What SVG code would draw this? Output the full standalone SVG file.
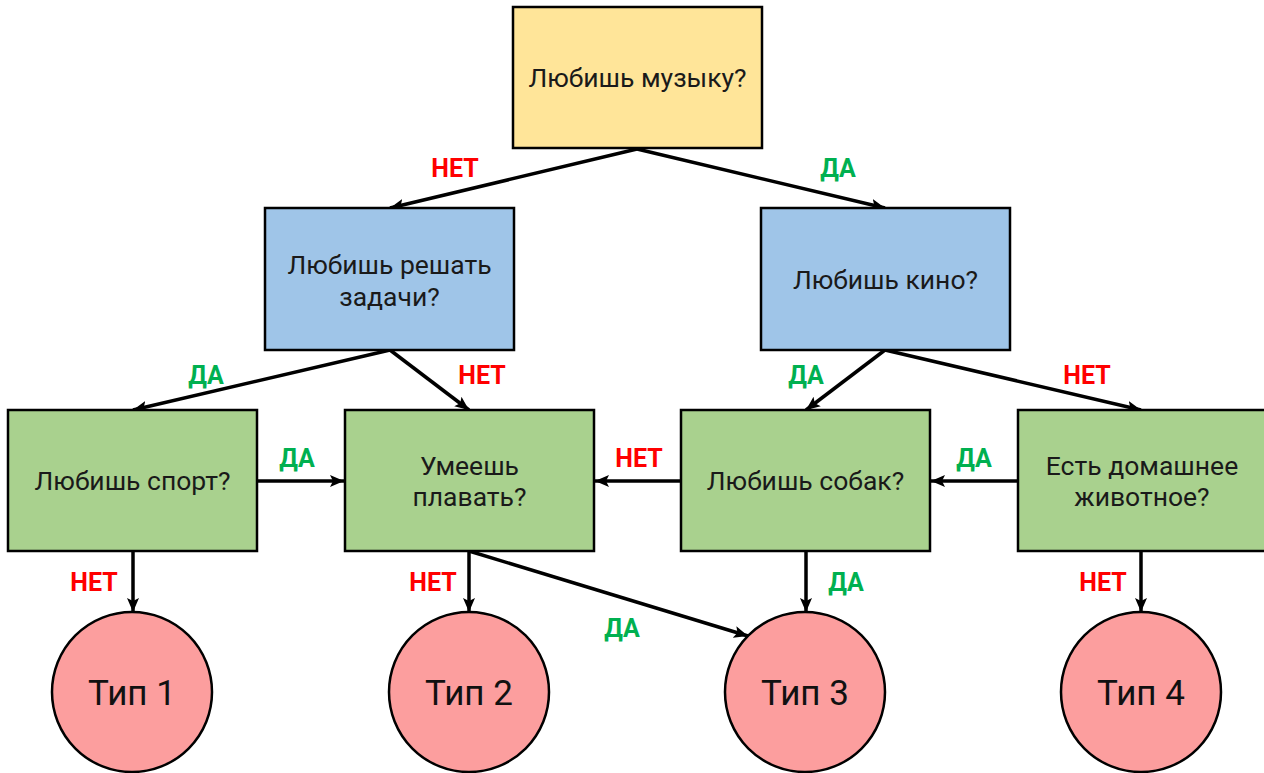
<svg xmlns="http://www.w3.org/2000/svg" width="1264" height="773" viewBox="0 0 1264 773">
<style>
.box{stroke:#000;stroke-width:2.5}
.q{fill:#FFE599}
.b{fill:#9FC5E8}
.g{fill:#A9D18E}
.c{fill:#FC9E9E;stroke:#000;stroke-width:2.5}
.t{font-family:Roboto,"Liberation Sans",sans-serif;font-size:26.5px;fill:#1a1a1a;text-anchor:middle}
.tt{font-family:Roboto,"Liberation Sans",sans-serif;font-size:35px;fill:#111;text-anchor:middle}
.lb{font-family:Roboto,"Liberation Sans",sans-serif;font-size:25px;font-weight:bold;text-anchor:middle}
.no{fill:#FF0000}
.yes{fill:#00B050}
.e{stroke:#000;stroke-width:3.5;fill:none;marker-end:url(#a)}
</style>
<defs>
<marker id="a" markerUnits="userSpaceOnUse" markerWidth="16" markerHeight="14" refX="14" refY="6" orient="auto" viewBox="0 0 16 12">
<path d="M0,0 L14,6 L0,12 L3,6 Z" fill="#000"/>
</marker>
</defs>
<g id="connectors">
<line class="e" x1="637" y1="149" x2="390" y2="208"/>
<line class="e" x1="637" y1="149" x2="885" y2="208"/>
<line class="e" x1="390" y1="350" x2="133" y2="410"/>
<line class="e" x1="390" y1="350" x2="469" y2="410"/>
<line class="e" x1="885" y1="350" x2="806" y2="410"/>
<line class="e" x1="885" y1="350" x2="1141" y2="410"/>
<line class="e" x1="257" y1="481" x2="344" y2="481"/>
<line class="e" x1="681" y1="481" x2="595" y2="481"/>
<line class="e" x1="1018" y1="481" x2="931" y2="481"/>
<line class="e" x1="133" y1="551" x2="133" y2="612"/>
<line class="e" x1="469" y1="551" x2="469" y2="612"/>
<line class="e" x1="469" y1="551" x2="748" y2="636"/>
<line class="e" x1="806" y1="551" x2="806" y2="612"/>
<line class="e" x1="1141" y1="551" x2="1141" y2="612"/>
<text class="lb no" x="455" y="177">НЕТ</text>
<text class="lb yes" x="838" y="177">ДА</text>
<text class="lb yes" x="206" y="384">ДА</text>
<text class="lb no" x="482" y="384">НЕТ</text>
<text class="lb yes" x="806" y="384">ДА</text>
<text class="lb no" x="1087" y="384">НЕТ</text>
<text class="lb yes" x="297" y="467">ДА</text>
<text class="lb no" x="639" y="467">НЕТ</text>
<text class="lb yes" x="974" y="467">ДА</text>
<text class="lb no" x="94" y="591">НЕТ</text>
<text class="lb no" x="433" y="591">НЕТ</text>
<text class="lb yes" x="622" y="637">ДА</text>
<text class="lb yes" x="846" y="591">ДА</text>
<text class="lb no" x="1103" y="591">НЕТ</text>
</g>
<g id="n_music"><rect class="box q" x="513" y="7" width="249" height="141"/><text class="t" x="637.5" y="87">Любишь музыку?</text></g>
<g id="n_tasks"><rect class="box b" x="265" y="208" width="249" height="142"/><text class="t" x="389.5" y="274">Любишь решать</text><text class="t" x="389.5" y="306">задачи?</text></g>
<g id="n_movies"><rect class="box b" x="761" y="208" width="249" height="142"/><text class="t" x="885.5" y="289">Любишь кино?</text></g>
<g id="n_sport"><rect class="box g" x="8" y="410" width="249" height="141"/><text class="t" x="132.5" y="490">Любишь спорт?</text></g>
<g id="n_swim"><rect class="box g" x="345" y="410" width="249" height="141"/><text class="t" x="469.5" y="475">Умеешь</text><text class="t" x="469.5" y="506">плавать?</text></g>
<g id="n_dogs"><rect class="box g" x="681" y="410" width="249" height="141"/><text class="t" x="805.5" y="490">Любишь собак?</text></g>
<g id="n_pet"><rect class="box g" x="1018" y="410" width="249" height="141"/><text class="t" x="1142" y="475">Есть домашнее</text><text class="t" x="1142" y="506">животное?</text></g>
<g id="n_t1"><circle class="c" cx="132" cy="692" r="80"/><text class="tt" x="132" y="705">Тип 1</text></g>
<g id="n_t2"><circle class="c" cx="469" cy="692" r="80"/><text class="tt" x="469" y="705">Тип 2</text></g>
<g id="n_t3"><circle class="c" cx="805" cy="692" r="80"/><text class="tt" x="805" y="705">Тип 3</text></g>
<g id="n_t4"><circle class="c" cx="1141" cy="692" r="80"/><text class="tt" x="1141" y="705">Тип 4</text></g>
</svg>
